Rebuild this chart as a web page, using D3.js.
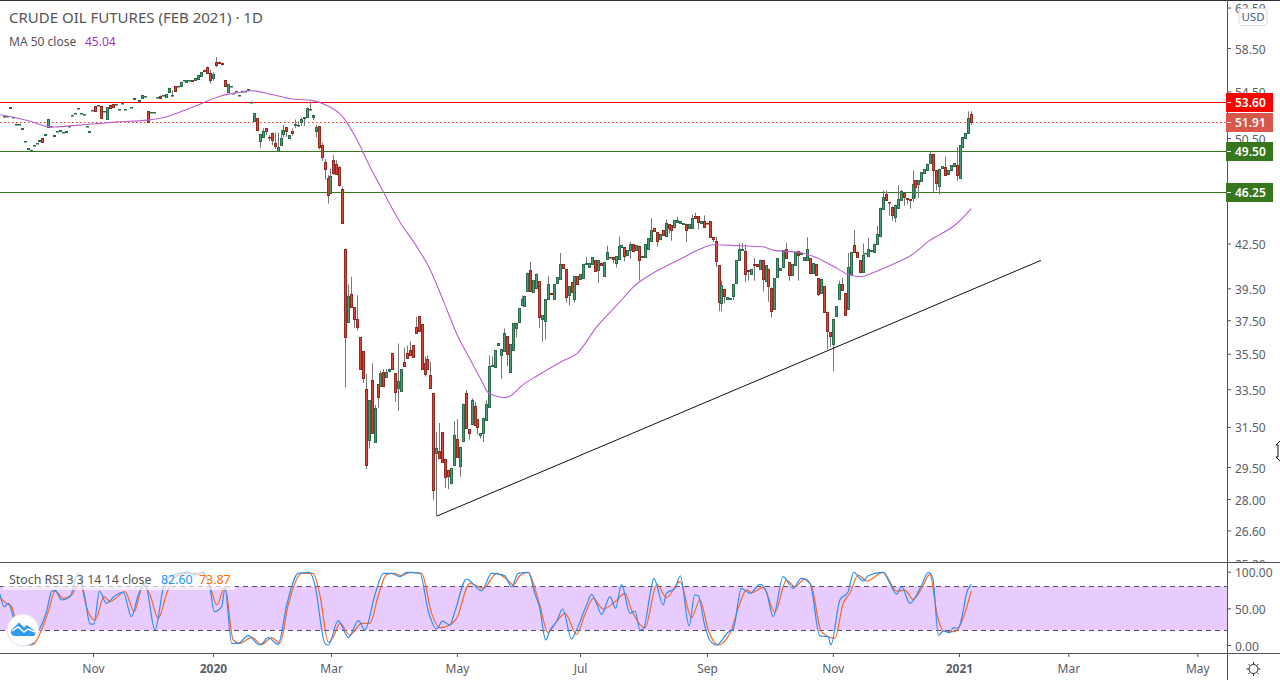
<!DOCTYPE html>
<html>
<head>
<meta charset="utf-8">
<script src="https://cdn.jsdelivr.net/npm/d3@7"></script>
<style>
  html, body { margin: 0; padding: 0; background: #fff; }
  svg { display: block; }
  text { font-family: "Noto Sans", sans-serif; }
</style>
</head>
<body>
<div id="chart"></div>
<script>
// daily bars, one entry per bar index, null = no trade that day
var opens = [
  52.35,52.35,53.08,52.23,51.68,51.63,51.28,50.23,49.63,49.4,
  49.93,50.1,50.28,50.48,50.78,51.45,51.46,50.7,51.06,51.11,
  50.98,51.03,51.46,52.43,52.61,53.01,52.58,52.5,51.46,51.03,
  52.85,53.22,53.28,53.25,52.75,52.07,53.3,53.4,53.38,52.93,
  53.46,52.93,null,53.1,53.85,null,53.65,53.9,54.1,52.77,
  52.66,52.66,54.01,54.13,54.18,54.0,54.4,54.15,55.0,55.0,
  54.95,55.5,55.3,55.5,55.52,55.52,55.6,55.92,56.47,56.75,
  56.17,55.7,57.15,57.22,57.13,55.52,54.43,54.96,54.36,54.55,
  54.18,54.55,54.55,54.65,53.58,51.95,52.2,50.25,50.6,51.3,
  50.57,50.95,50.05,49.4,49.92,50.85,51.38,50.52,51.1,51.55,
  51.6,51.82,52.15,52.25,52.97,52.3,51.1,51.48,49.95,48.52,
  47.27,46.15,48.72,48.37,48.2,46.5,42.15,37.4,39.15,38.3,
  37.55,36.47,35.67,33.5,30.83,34.03,30.73,33.77,33.7,34.45,
  34.15,34.5,35.55,34.4,33.57,33.38,35.05,35.55,35.73,36.0,
  37.08,37.73,37.25,34.95,35.22,34.3,33.27,30.18,30.3,31.23,
  29.9,29.38,28.72,29.62,30.87,29.53,30.78,33.32,31.38,31.67,
  32.62,31.9,31.1,31.18,31.87,32.55,34.77,34.73,36.0,35.45,
  35.65,36.53,34.43,35.73,37.03,37.37,38.47,38.35,39.3,40.68,
  39.25,39.52,39.98,37.55,37.48,38.8,39.22,38.83,39.82,40.12,
  41.12,40.75,39.05,39.92,38.85,40.28,40.12,40.2,41.12,40.93,
  41.1,41.35,40.7,41.2,40.3,41.47,41.6,41.58,41.15,41.47,
  42.28,42.28,41.7,42.05,42.47,42.05,42.35,41.6,41.58,42.1,
  42.65,43.58,43.3,42.8,43.47,43.02,43.85,43.8,43.65,44.0,
  43.93,43.88,43.9,43.62,43.6,44.45,44.43,43.93,44.1,43.97,
  44.1,42.97,42.7,41.02,38.58,39.47,38.85,38.82,39.0,39.83,
  41.35,42.05,42.0,40.7,40.47,41.12,41.08,40.75,41.35,40.0,
  40.8,39.55,38.17,40.23,40.7,40.93,42.12,41.23,40.4,41.03,
  42.0,41.8,41.37,41.37,41.53,40.5,41.08,40.17,39.2,39.63,
  38.03,36.78,36.08,37.77,38.8,39.77,39.23,38.17,40.43,42.4,
  41.95,41.4,40.58,41.82,41.68,42.0,41.95,42.5,43.0,44.97,
  46.05,45.5,45.15,44.4,45.05,45.65,46.17,45.77,45.7,45.77,
  47.12,46.84,47.1,47.72,47.95,48.48,49.2,47.92,46.72,48.05,
  48.2,47.6,47.95,48.23,48.32,47.33,49.75,50.5,50.92,52.5
];
var closes = [
  52.37,52.37,53.1,52.25,51.7,51.65,51.3,50.25,49.65,49.55,
  49.95,50.12,50.3,50.2,50.8,52.07,51.48,50.72,51.08,51.13,
  51.0,51.05,51.48,52.45,52.63,53.03,52.6,52.52,51.48,51.05,
  52.87,52.82,53.3,52.15,52.77,53.1,53.0,53.1,53.4,52.95,
  53.48,52.95,null,53.12,53.87,null,53.75,54.15,54.12,51.82,
  52.68,52.68,54.03,53.93,54.2,54.27,54.8,54.18,54.55,55.02,
  55.35,55.52,55.48,55.52,55.4,55.67,56.0,56.25,56.32,56.17,
  55.55,56.08,56.88,57.12,57.03,54.95,55.15,54.98,54.38,54.57,
  54.2,54.57,54.57,54.67,53.6,52.6,51.2,50.8,51.05,51.05,
  50.55,50.32,49.85,49.73,50.53,51.2,51.05,50.75,50.95,51.7,
  51.62,52.07,52.25,53.05,52.92,52.45,51.38,49.77,48.95,48.02,
  45.99,47.49,47.7,47.6,46.8,43.95,36.5,39.0,38.3,37.55,
  37.08,34.65,34.1,29.58,32.9,31.18,32.47,33.1,34.4,33.65,
  34.45,34.65,34.65,33.33,33.95,34.6,34.8,35.27,35.43,35.3,
  36.75,36.82,34.65,34.37,34.65,33.57,28.42,30.43,29.95,29.73,
  29.03,29.07,29.46,31.1,29.97,30.5,32.72,31.45,31.17,32.93,
  31.6,31.52,31.17,31.98,32.72,34.82,34.87,35.73,36.13,35.8,
  36.75,35.47,36.07,37.35,37.35,38.25,38.8,39.03,40.53,39.3,
  40.03,40.47,37.7,37.8,38.8,39.8,39.13,39.8,40.22,41.12,
  40.87,38.95,39.65,39.27,40.3,39.78,40.43,41.12,41.2,41.2,
  41.57,40.67,41.35,41.02,41.27,41.93,41.55,41.47,41.63,42.35,
  42.42,41.67,42.05,42.47,42.0,42.37,41.35,41.63,42.47,42.9,
  43.47,43.37,42.68,43.2,43.07,43.95,43.57,43.47,44.17,44.17,
  44.1,43.95,43.43,43.9,44.33,44.33,44.0,44.1,43.67,43.92,
  42.97,42.8,41.3,38.65,39.73,39.0,38.95,38.88,39.8,41.35,
  42.12,42.12,40.43,40.62,40.77,41.03,40.97,41.4,40.13,41.02,
  39.65,38.08,40.17,41.48,40.82,42.05,41.48,40.35,41.08,41.93,
  41.72,41.87,41.57,42.12,40.48,41.15,40.37,39.15,40.08,38.03,
  36.82,36.53,37.6,38.37,39.8,39.37,37.83,40.9,41.93,41.93,
  41.6,40.6,41.7,41.87,42.12,42.07,42.5,43.15,45.07,45.84,
  45.67,45.45,44.52,45.3,45.7,46.32,45.87,45.72,45.65,46.87,
  46.62,47.12,47.74,47.98,48.43,49.2,47.9,46.92,48.04,48.22,
  47.52,47.95,48.32,48.47,47.55,49.9,50.57,50.92,52.2,51.88
];

// bars with a visible wick: index, high, low (null = wick does not leave the body on that side)
var wickIndex = [57,70,71,72,74,87,88,89,90,91,92,93,94,95,96,98,99,100,101,102,103,104,105,106,107,108,109,110,111,112,113,114,115,116,117,118,119,120,122,123,124,125,126,127,128,129,130,133,134,136,137,138,140,143,144,145,146,147,148,150,151,152,153,154,155,157,158,159,160,161,162,163,164,165,166,169,170,171,174,176,179,182,183,184,185,189,191,192,194,198,202,205,207,208,209,211,213,216,220,222,225,226,227,229,232,234,235,236,238,241,242,243,244,245,248,250,251,252,253,255,258,260,261,266,267,270,273,277,280,281,282,284,285,287,289,292,294,297,299,300,301,302,303,304,305,306,307,308,309,310,311,315,316,317,318,320,324,328,329];
var wickHighs = [54.6,56.45,56.25,57.64,null,null,51.3,null,50.77,null,50.95,50.95,51.2,51.6,null,51.3,52.05,51.9,52.2,null,53.1,53.6,null,51.6,null,50.1,48.8,47.55,48.05,49.1,48.7,null,46.65,null,39.75,40.25,null,39.05,null,34.35,null,34.95,32.65,null,34.53,34.62,34.62,null,36.1,35.85,35.97,36.23,37.7,35.35,35.4,35.05,null,31.23,31.7,null,null,null,31.8,31.9,null,33.45,null,33.0,32.83,null,null,null,32.9,35.4,35.35,null,37.0,null,null,39.05,41.25,null,null,null,40.3,41.85,null,null,null,41.6,null,42.35,null,null,43.0,null,42.6,null,44.3,null,44.2,null,null,44.4,null,44.58,44.7,null,44.5,null,43.0,null,40.0,null,null,42.5,42.55,42.42,null,41.5,null,null,null,42.55,null,null,42.95,null,null,null,null,40.0,40.2,41.85,43.45,42.5,42.9,43.75,46.35,46.35,null,null,null,46.75,46.4,null,null,null,47.9,null,null,49.35,null,null,null,49.0,49.75,52.75,52.75];
var wickLows = [54.0,55.2,55.45,56.7,56.85,49.7,null,50.75,50.25,49.9,49.6,49.4,null,50.55,50.6,50.7,51.35,51.45,51.5,51.5,null,52.85,52.0,50.55,49.55,48.65,47.2,45.37,null,47.55,47.55,46.65,43.9,33.6,null,null,37.03,36.88,33.84,29.4,30.4,null,null,32.5,null,null,null,32.83,32.34,null,null,null,null,34.2,null,null,27.95,27.23,null,28.5,28.45,28.67,null,null,29.03,null,30.85,null,null,31.1,30.9,30.72,null,null,null,34.07,null,34.77,36.47,null,null,37.03,36.2,36.33,null,null,38.6,38.4,38.6,null,39.85,null,41.15,40.87,null,41.3,41.45,40.0,null,42.3,null,43.2,42.7,null,42.6,null,null,43.5,null,42.6,40.9,38.05,38.05,38.55,38.75,null,null,39.9,40.0,40.0,39.3,38.65,37.67,null,40.0,40.0,null,39.0,35.75,35.9,34.5,null,null,null,null,null,null,null,null,null,44.5,44.13,44.0,null,null,45.22,45.32,44.99,45.5,45.77,45.79,null,46.2,46.37,46.04,null,47.1,null,51.6];

// MA 50, read at points along the curve
var maIndex = [-1.4,4.3,8.8,14.5,17.3,23.4,31.6,38.4,48.6,54,59.8,65.6,73.4,79.2,84.3,91.4,98.3,105,109.8,114.9,120.4,124.4,128.9,134.6,140.4,144.8,149.3,154.4,158.5,161.9,164.6,167.6,169.7,172,176.5,181.2,189.7,194.9,201.7,209.5,213.9,222.1,230.9,236.7,241.2,250.3,258.1,261.5,270.7,276.5,281.9,287.7,291.4,295.5,300.3,304.7,308.7,314.9,324,329];
var maValues = [52.45,52.18,51.9,51.47,51.42,51.53,51.7,51.85,52.0,52.2,52.7,53.27,54.07,54.37,54.55,54.2,53.82,53.68,53.25,52.35,50.17,48.2,46.27,44.03,42.27,40.77,38.75,36.5,35.18,34.12,33.32,33.12,33.04,33.12,33.75,34.23,35.05,35.52,37.12,38.65,39.57,40.65,41.53,42.12,42.42,42.35,42.28,42.05,41.88,41.53,40.97,40.37,40.27,40.52,40.9,41.3,41.72,42.72,43.9,45.0];

// Stoch RSI
var kIndex = [-1.4,0,1.4,2.9,4.8,7.1,9.3,11.6,14.4,16.1,17.3,19.5,22.4,25.2,27.5,29.2,30.5,32.4,34.8,37.7,40.5,43.3,45.6,47.9,51.3,54.1,56.4,62.1,65.5,67.7,70,71.5,74,75.1,77.4,79.6,83,87,89.8,93.2,96.1,100,104,105.7,109.1,110.3,113.6,117.1,120.5,122.7,126.1,129,131.8,134.6,136.9,141.4,144.3,147.1,149.1,151.6,153.3,157.3,162.4,165.8,168.6,170.3,172.6,174.9,178.3,180.5,182.2,184.2,185.7,187.9,190,193,194.7,198.1,199.8,201.5,203.2,206.1,208,210,212.9,214.6,216.3,217.4,220.2,221,224.2,225.3,228.2,230,233,234.9,236.1,238.4,240,242.3,246.3,248,250.8,253.7,257.1,259.3,261.6,265,268.4,271.2,274.1,277.5,280.3,281.2,284.3,287.1,289,292.2,293.9,299,301.3,303.6,305.3,308.1,312.1,314.4,315.9,317.8,319.5,321.7,322.9,324.5,326.2,327.4,329];
var kValues = [69.1,52.3,56.8,40.9,9.1,0,0.9,18.2,45.5,72.7,75,61.4,65.9,97.7,63.6,28.6,28.6,73.6,56.8,67.3,71.8,38.6,68.2,84.1,20.5,77.3,93.2,99.1,95.5,99.1,77.3,45.5,52.3,77.3,2.3,2.3,12.7,0,10,0.9,54.5,97.7,99.1,81.8,2.3,0,33.2,10.5,33.2,20.5,68.2,97.7,97.7,93.2,99.1,97.7,45.5,21.8,32.7,27.3,45.5,90,74.1,97.7,96.4,94.5,79.5,97.7,99.1,70.5,50,6.8,20.5,31.8,49.1,8.2,20.5,54.5,69.1,56.8,41.8,65.9,50,82.7,43.2,46.4,20.5,21.8,79.5,90.9,54.5,70.5,77.3,94.5,25.9,68.2,67.3,25,6.8,0,17.3,21.8,77.3,70.5,82.7,72.7,38.6,93.2,77.3,90.9,84.1,12.3,11.4,0,61.4,72.7,99.1,87.3,94.5,99.1,84.1,69.5,79.5,56.8,81.8,99.1,90.9,13.6,19.1,16.8,23.6,22.7,45.5,70.5,82.6];
var dIndex = [-1.4,0.8,2.5,4.8,7.1,9.9,12.7,15,17.3,20.1,22.9,25.8,28.3,30.9,34,36,41.1,44.2,47.3,49.6,52.4,55.3,57.5,62.1,67.7,70.6,72.3,75.1,77.9,80.2,84.2,87.6,91,93.8,96.6,101.2,105.1,107.4,110.3,112,114.2,117.6,121.6,124.4,127.3,130.1,132.4,135.2,138.1,142,145.4,148.2,151.6,153.9,158.4,163,167.5,170.9,173.2,175.4,178.3,180,182.2,185,187.9,190.8,194.7,197.5,200.4,203.8,207.8,211.2,213.4,218,222,225.3,229.9,233.8,236.7,239.5,242.9,246.9,249.7,252.5,254.3,258.2,262.2,266.1,269,272.4,274.7,278,282.6,285.4,287.7,290.5,293.4,299,303.6,306.4,309.2,312.1,314.9,317.4,319.5,323.4,326.2,329];
var dValues = [64.5,56.8,52.3,15.9,0,0.9,20.5,45.5,73.6,63.6,68.2,84.1,47.7,34.1,65.9,59.1,72.7,45.5,81.8,68.2,36.4,70.5,90.9,97.7,97.7,72.7,54.5,79.5,6.8,2.3,10.5,0.9,10,2.3,54.5,97.7,97.7,68.2,3.6,11.4,29.5,13.6,29.5,29.5,68.2,96.4,97.7,94.5,99.1,97.7,43.2,23.6,27.3,36.4,84.1,77.3,97.7,90,81.8,94.5,99.1,84.1,54.5,17.3,31.8,43.2,14.5,40.9,63.6,49.1,59.1,70.5,47.7,23.6,82.7,64.5,86.4,37.3,61.4,20.5,0,15.9,50,75,71.4,78.6,44.5,88.6,79.5,90,79.5,18.2,9.1,56.8,70.5,95.5,87.3,99.1,73.6,75,62.3,77.3,96.4,40.9,19.1,18.2,36.4,73.87];

// drawn trend line and horizontal levels
var trendIndex = [147.2, 352.7];
var trendPrices = [27.23, 41.35];
var levelPrices = [53.55, 51.85, 49.4, 46.25];
var levelLabels = ['53.60', '51.91', '49.50', '46.25'];
var levelColors = ['#ff0000', '#d9574a', '#38761d', '#38761d'];
var lineColors = ['#ff0000', '#e0392b', '#38761d', '#38761d'];

var priceTicks = [62.5, 58.5, 54.5, 50.5, 42.5, 39.5, 37.5, 35.5, 33.5, 31.5, 29.5, 28, 26.6, 25.2];
var stochTicks = [100, 50, 0];
var dateTicks = [30.2, 71, 111.2, 154, 195.9, 239.1, 281.9, 324.8, 362, 405.9];
var dateLabels = ['Nov', '2020', 'Mar', 'May', 'Jul', 'Sep', 'Nov', '2021', 'Mar', 'May'];

var W = 1280, H = 680, axisX = 1227;
var paneBottom = 562, stochBottom = 653;

var svg = d3.select('#chart').append('svg').attr('width', W).attr('height', H);

var x = d3.scaleLinear().domain([0, 329]).range([4.2, 971.3]);
var y = d3.scaleLog().domain([28, 58.5]).range([499, 48]);
var ys = d3.scaleLinear().domain([0, 100]).range([645, 571.7]);

var defs = svg.append('defs');
defs.append('clipPath').attr('id', 'main-clip').append('rect').attr('x', 0).attr('y', 1).attr('width', axisX).attr('height', paneBottom - 1);
defs.append('clipPath').attr('id', 'stoch-clip').append('rect').attr('x', 0).attr('y', paneBottom).attr('width', axisX).attr('height', stochBottom - paneBottom);
defs.append('clipPath').attr('id', 'price-axis-clip').append('rect').attr('x', axisX).attr('y', 1).attr('width', W - axisX).attr('height', paneBottom - 1);

// price pane
var main = svg.append('g').attr('clip-path', 'url(#main-clip)');

var maLine = d3.line()
  .x((d, i) => x(maIndex[i]))
  .y((d) => y(d))
  .curve(d3.curveMonotoneX);

// levels
{
  main.selectAll('.level').data(levelPrices).enter().append('line')
    .attr('class', 'level')
    .attr('x1', 0).attr('x2', axisX)
    .attr('y1', (d) => Math.round(y(d)) + 0.5).attr('y2', (d) => Math.round(y(d)) + 0.5)
    .attr('stroke', (d, i) => lineColors[i])
    .attr('stroke-width', 1)
    .attr('stroke-dasharray', (d, i) => i === 1 ? '1.5,2.5' : null);
}

// candles
{
  let bars = opens.map((o, i) => {
    if (o === null) return null;
    let w = wickIndex.indexOf(i);
    let c = closes[i];
    return {
      i: i, o: o, c: c,
      h: w >= 0 && wickHighs[w] !== null ? wickHighs[w] : Math.max(o, c),
      l: w >= 0 && wickLows[w] !== null ? wickLows[w] : Math.min(o, c)
    };
  }).filter((b) => b !== null);

  let g = main.selectAll('.bar').data(bars).enter().append('g').attr('class', 'bar');

  g.append('line')
    .attr('x1', (b) => Math.round(x(b.i)) + 0.5)
    .attr('x2', (b) => Math.round(x(b.i)) + 0.5)
    .attr('y1', (b) => y(b.h))
    .attr('y2', (b) => y(b.l))
    .attr('stroke', '#777')
    .attr('stroke-width', 1);

  g.append('rect')
    .attr('x', (b) => Math.round(x(b.i)) - 0.5)
    .attr('width', 2)
    .attr('y', (b) => Math.round(y(Math.max(b.o, b.c))) + 0.5)
    .attr('height', (b) => Math.max(0.5, Math.round(y(Math.min(b.o, b.c))) - Math.round(y(Math.max(b.o, b.c)))))
    .attr('fill', (b) => b.c >= b.o ? '#4a9c76' : '#de4434')
    .attr('stroke', (b) => b.c >= b.o ? '#2b6a4b' : '#8e2a20')
    .attr('stroke-width', 1);
}

// MA curve
main.append('path')
  .datum(maValues)
  .attr('d', maLine)
  .attr('fill', 'none')
  .attr('stroke', '#b85fcf')
  .attr('stroke-width', 1.1);

// trend line
main.append('line')
  .attr('x1', x(trendIndex[0])).attr('y1', y(trendPrices[0]))
  .attr('x2', x(trendIndex[1])).attr('y2', y(trendPrices[1]))
  .attr('stroke', '#111')
  .attr('stroke-width', 1);

// stoch pane
var stoch = svg.append('g').attr('clip-path', 'url(#stoch-clip)');
{
  stoch.append('rect')
    .attr('x', 0).attr('width', axisX)
    .attr('y', ys(80)).attr('height', ys(20) - ys(80))
    .attr('fill', '#e8ccff');

  [80, 20].forEach((v) => {
    stoch.append('line')
      .attr('x1', 0).attr('x2', axisX)
      .attr('y1', Math.round(ys(v)) + 0.5).attr('y2', Math.round(ys(v)) + 0.5)
      .attr('stroke', '#5a4a70')
      .attr('stroke-width', 1)
      .attr('stroke-dasharray', '5,4');
  });

  let kLine = d3.line().x((d, i) => x(kIndex[i])).y((d) => ys(d)).curve(d3.curveMonotoneX);
  let dLine = d3.line().x((d, i) => x(dIndex[i])).y((d) => ys(d)).curve(d3.curveMonotoneX);

  stoch.append('path').datum(dValues).attr('d', dLine).attr('fill', 'none').attr('stroke', '#f4672a').attr('stroke-width', 1.2);
  stoch.append('path').datum(kValues).attr('d', kLine).attr('fill', 'none').attr('stroke', '#2f8fee').attr('stroke-width', 1.2);

  // legend backing washes out the lines below it
  stoch.append('rect')
    .attr('x', 3).attr('y', 572).attr('width', 232).attr('height', 18)
    .attr('fill', '#fff').attr('opacity', 0.65);
}

// frame
svg.append('rect').attr('x', 0).attr('y', 0).attr('width', W).attr('height', 1).attr('fill', '#2a2e39');

[paneBottom, stochBottom].forEach((yy) => {
  svg.append('line')
    .attr('x1', 0).attr('x2', W)
    .attr('y1', yy + 0.5).attr('y2', yy + 0.5)
    .attr('stroke', '#50535e');
});
svg.append('line')
  .attr('x1', axisX + 0.5).attr('x2', axisX + 0.5)
  .attr('y1', 0).attr('y2', H)
  .attr('stroke', '#50535e');

// axes
{
  let priceAxis = d3.axisRight(y).tickValues(priceTicks).tickFormat(d3.format('.2f')).tickSize(4).tickPadding(4);
  let a = svg.append('g')
    .attr('clip-path', 'url(#price-axis-clip)')
    .append('g')
    .attr('transform', `translate(${ axisX },0)`)
    .call(priceAxis);

  let stochAxis = d3.axisRight(ys).tickValues(stochTicks).tickFormat(d3.format('.2f')).tickSize(4).tickPadding(4);
  let b = svg.append('g')
    .attr('transform', `translate(${ axisX },0)`)
    .call(stochAxis);

  let dateAxis = d3.axisBottom(x).tickValues(dateTicks)
    .tickFormat((d, i) => dateLabels[i]).tickSize(4).tickPadding(7);
  let c = svg.append('g')
    .attr('transform', `translate(0,${ stochBottom })`)
    .call(dateAxis);

  [a, b, c].forEach((s) => {
    s.select('.domain').remove();
    s.selectAll('.tick line').attr('stroke', '#50535e');
    s.selectAll('.tick text')
      .attr('fill', '#5b5e68')
      .style('font-size', '12px')
      .style('font-family', '"Noto Sans", sans-serif');
  });

  a.selectAll('.tick text').attr('dy', '0.42em');
  b.selectAll('.tick text').attr('dy', '0.42em');

  c.selectAll('.tick text')
    .style('font-weight', (d, i) => /^20/.test(dateLabels[i]) ? 700 : 400);
}

// level price tags
{
  let tag = svg.selectAll('.tag').data(levelPrices).enter().append('g').attr('class', 'tag');

  tag.append('rect')
    .attr('x', axisX - 1).attr('width', 47)
    .attr('y', (d) => Math.round(y(d)) - 9).attr('height', 19)
    .attr('fill', (d, i) => levelColors[i]);

  tag.append('line')
    .attr('x1', axisX).attr('x2', axisX + 4)
    .attr('y1', (d) => Math.round(y(d)) + 0.5).attr('y2', (d) => Math.round(y(d)) + 0.5)
    .attr('stroke', '#fff');

  tag.append('text')
    .attr('x', axisX + 8)
    .attr('y', (d) => Math.round(y(d)) + 5)
    .attr('fill', '#fff')
    .style('font-size', '12px')
    .style('font-weight', 600)
    .text((d, i) => levelLabels[i]);
}

// legends
svg.append('text').attr('x', 9).attr('y', 23).attr('fill', '#555').style('font-size', '15px')
  .text('CRUDE OIL FUTURES (FEB 2021) · 1D');

{
  let t = svg.append('text').attr('x', 9).attr('y', 46).style('font-size', '12px').attr('fill', '#555');
  t.append('tspan').text('MA 50 close');
  t.append('tspan').attr('x', 85).attr('fill', '#a52fc0').text('45.04');

  let s = svg.append('text').attr('x', 9).attr('y', 584).style('font-size', '12.4px').attr('fill', '#555');
  s.append('tspan').text('Stoch RSI 3 3 14 14 close');
  s.append('tspan').attr('x', 161).attr('fill', '#2196f3').text('82.60');
  s.append('tspan').attr('x', 199).attr('fill', '#ff6d00').text('73.87');
}

// USD button
svg.append('rect')
  .attr('x', 1239).attr('y', 8.5).attr('width', 28).attr('height', 17).attr('rx', 3)
  .attr('fill', '#fff').attr('stroke', '#dcdcdc');
svg.append('text').attr('x', 1253).attr('y', 21).attr('text-anchor', 'middle')
  .attr('fill', '#4a5a8a').style('font-size', '11.5px').text('USD');

// logo badge
{
  let logo = svg.append('g').attr('transform', 'translate(23,630)');
  logo.append('circle').attr('r', 16).attr('fill', '#fff').attr('stroke', '#e6dcec');
  logo.append('path')
    .attr('d', 'M-8,6 a4,4 0 0 1 -2,-7.5 l6,-6 l5,5 l3,-2.5 l5,4 a4,4 0 0 1 2,7 z')
    .attr('fill', '#2f9bea');
  logo.append('path')
    .attr('d', 'M-11,1 l6,-4 l6,5 l4,-3 l7,3')
    .attr('fill', 'none').attr('stroke', '#fff').attr('stroke-width', 1.5);
}

// settings sun
{
  let sun = svg.append('g').attr('transform', 'translate(1253.5,669)').attr('stroke', '#222').attr('fill', 'none');
  sun.append('circle').attr('r', 4.5);
  d3.range(8).forEach((k) => {
    let a = k * Math.PI / 4;
    sun.append('line')
      .attr('x1', Math.cos(a) * 5).attr('y1', Math.sin(a) * 5)
      .attr('x2', Math.cos(a) * 7).attr('y2', Math.sin(a) * 7);
  });
}

// edge of the mouse cursor
svg.append('path')
  .attr('d', 'M1281,440 l-5,5 h2 v12 h-2 l5,5')
  .attr('fill', '#fff').attr('stroke', '#111');
</script>
</body>
</html>
